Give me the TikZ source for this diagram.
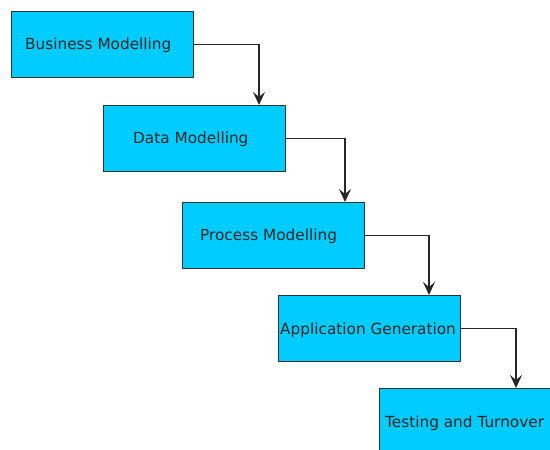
\documentclass[tikz,border=0pt]{standalone}
\usepackage{fontspec}
\setmainfont{DejaVu Sans}
\usetikzlibrary{arrows.meta}
\definecolor{boxfill}{HTML}{00CCFF}
\definecolor{edge}{HTML}{333333}

\begin{document}
\begin{tikzpicture}[x=1pt,y=-1pt,
  stage/.style={draw=edge, line width=1.2pt, fill=boxfill,
    minimum width=182pt, minimum height=66pt, inner sep=0pt, anchor=north west},
  caption/.style={anchor=base west, inner sep=0pt,
    font=\fontsize{15.3}{18}\selectfont, text=black!85},
  flow/.style={draw=black!85, line width=1.3pt,
    -{Stealth[length=13pt,width=12pt,inset=5pt]}}]
\useasboundingbox (0,0) rectangle (550,450);
\clip (0,0) rectangle (550,450);

% stages of the process
\node[stage] (b1) at (11,11) {};
\node[stage] (b2) at (103,105) {};
\node[stage] (b3) at (182,202) {};
\node[stage] (b4) at (278,295) {};
\node[stage] (b5) at (379,388) {};

\node[caption] (t1) at (25,49.5) {Business Modelling};
\node[caption] (t2) at (133,143.5) {Data Modelling};
\node[caption] (t3) at (200,240.5) {Process Modelling};
\node[caption] (t4) at (280,334) {Application Generation};
\node[caption] (t5) at (385,427) {Testing and Turnover};

% arrival points on each following stage
\coordinate (a1) at ([xshift=156pt]b2.north west);
\coordinate (a2) at ([xshift=163pt]b3.north west);
\coordinate (a3) at ([xshift=151pt]b4.north west);
\coordinate (a4) at ([xshift=137pt]b5.north west);

\draw[flow] (b1.east) -| (a1);
\draw[flow] (b2.east) -| (a2);
\draw[flow] (b3.east) -| (a3);
\draw[flow] (b4.east) -| (a4);
\end{tikzpicture}
\end{document}
